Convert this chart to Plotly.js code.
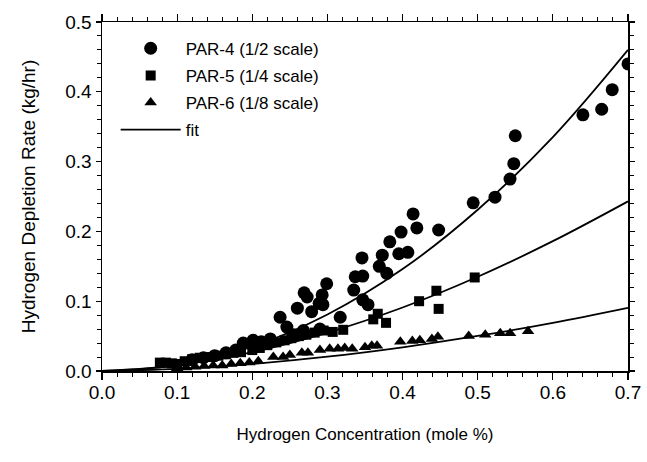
<!DOCTYPE html>
<html>
<head>
<meta charset="utf-8">
<script src="https://cdn.plot.ly/plotly-3.0.1.min.js"></script>
<style>html,body{margin:0;padding:0;background:#fff}#chart{width:647px;height:462px}</style>
</head>
<body>
<div id="chart"></div>
<script>
// PAR-4 (1/2 scale) measurements
const par4X = [0.494,0.523,0.543,0.548,0.550,0.640,0.665,0.679,0.700,0.414,0.419,0.448,0.398,0.383,0.373,0.395,0.407,0.346,0.369,0.379,0.337,0.347,0.299,0.293,0.294,0.335,0.347,0.354,0.317,0.269,0.289,0.279,0.237,0.260,0.273,0.246,0.201,0.188,0.120,0.135,0.150,0.165,0.178,0.212,0.224,0.255,0.268,0.290];
const par4Y = [0.241,0.249,0.275,0.297,0.337,0.367,0.375,0.403,0.440,0.225,0.205,0.202,0.199,0.185,0.166,0.168,0.170,0.162,0.150,0.140,0.135,0.136,0.125,0.109,0.095,0.116,0.102,0.095,0.077,0.112,0.097,0.085,0.077,0.090,0.106,0.063,0.044,0.040,0.016,0.019,0.022,0.026,0.030,0.042,0.046,0.052,0.058,0.060];
// PAR-5 (1/4 scale) measurements
const par5X = [0.077,0.085,0.093,0.100,0.110,0.120,0.130,0.140,0.155,0.165,0.175,0.185,0.200,0.210,0.220,0.232,0.243,0.252,0.262,0.272,0.283,0.295,0.307,0.321,0.361,0.367,0.378,0.422,0.445,0.448,0.496];
const par5Y = [0.012,0.012,0.011,0.010,0.014,0.017,0.019,0.020,0.022,0.024,0.026,0.027,0.030,0.033,0.037,0.041,0.044,0.047,0.050,0.052,0.055,0.058,0.056,0.059,0.074,0.082,0.069,0.100,0.115,0.089,0.134];
// PAR-6 (1/8 scale) measurements
const par6X = [0.100,0.112,0.124,0.136,0.148,0.160,0.172,0.184,0.196,0.208,0.228,0.241,0.250,0.266,0.274,0.290,0.303,0.314,0.323,0.333,0.350,0.359,0.366,0.397,0.413,0.423,0.439,0.447,0.488,0.510,0.530,0.543,0.567];
const par6Y = [0.004,0.005,0.006,0.007,0.008,0.008,0.010,0.011,0.012,0.014,0.020,0.020,0.023,0.026,0.026,0.030,0.032,0.032,0.033,0.032,0.034,0.036,0.036,0.042,0.043,0.044,0.046,0.049,0.050,0.052,0.054,0.054,0.057];
// fit curves
const fitX  = [0.0,0.1,0.2,0.3,0.4,0.5,0.6,0.7];
const fit4Y = [0.0,0.0085,0.035,0.081,0.146,0.231,0.335,0.460];
const fit5Y = [0.0,0.0081,0.027,0.055,0.091,0.135,0.186,0.243];
const fit6Y = [0.0,0.0030,0.0101,0.0205,0.034,0.0502,0.069,0.0905];

const FONT = 'Liberation Sans, Arial, Helvetica, sans-serif';
const lineStyle = {color:'black', width:1.8, shape:'spline'};

const traces = [
  {x:par4X, y:par4Y, type:'scatter', mode:'markers', name:'PAR-4 (1/2 scale)', legendgroup:'a',
   marker:{symbol:'circle', size:13, color:'black'}},
  {x:par5X, y:par5Y, type:'scatter', mode:'markers', name:'PAR-5 (1/4 scale)', legendgroup:'b',
   marker:{symbol:'square', size:10, color:'black'}},
  {x:par6X, y:par6Y, type:'scatter', mode:'markers', name:'PAR-6 (1/8 scale)', legendgroup:'c',
   marker:{symbol:'triangle-up', size:11, color:'black'}},
  {x:fitX, y:fit4Y, type:'scatter', mode:'lines', name:'fit', legendgroup:'d', line:lineStyle},
  {x:fitX, y:fit5Y, type:'scatter', mode:'lines', name:'fit', legendgroup:'d', line:lineStyle, showlegend:false},
  {x:fitX, y:fit6Y, type:'scatter', mode:'lines', name:'fit', legendgroup:'d', line:lineStyle, showlegend:false}
];

const axisBase = {
  showline:true, linecolor:'black', linewidth:1.5, mirror:'ticks',
  ticks:'outside', ticklen:7, tickwidth:1.2, tickcolor:'black',
  showgrid:false, zeroline:false, tickformat:'.1f',
  tickfont:{family:FONT, size:19, color:'black'},
  minor:{dtick:0.02, ticks:'outside', ticklen:4, tickwidth:1, tickcolor:'black', showgrid:false}
};

const layout = {
  width:647, height:462,
  margin:{l:102, r:19, t:22, b:91},
  paper_bgcolor:'white', plot_bgcolor:'white',
  font:{family:FONT, color:'black'},
  showlegend:true,
  legend:{x:0.026, y:0.975, xanchor:'left', yanchor:'top', bgcolor:'rgba(0,0,0,0)',
          font:{family:FONT, size:17, color:'black'}, itemwidth:60, tracegroupgap:2},
  xaxis:Object.assign({}, axisBase, {range:[0,0.7], dtick:0.1, tick0:0, ticklabelstandoff:-3,
    title:{text:'Hydrogen Concentration (mole %)', font:{family:FONT, size:17, color:'black'}, standoff:26}}),
  yaxis:Object.assign({}, axisBase, {range:[0,0.5], dtick:0.1, tick0:0, ticklen:5,
    title:{text:'Hydrogen Depletion Rate (kg/hr)', font:{family:FONT, size:19, color:'black'}, standoff:24}})
};

Plotly.newPlot('chart', traces, layout, {displayModeBar:false, staticPlot:true});
</script>
</body>
</html>
